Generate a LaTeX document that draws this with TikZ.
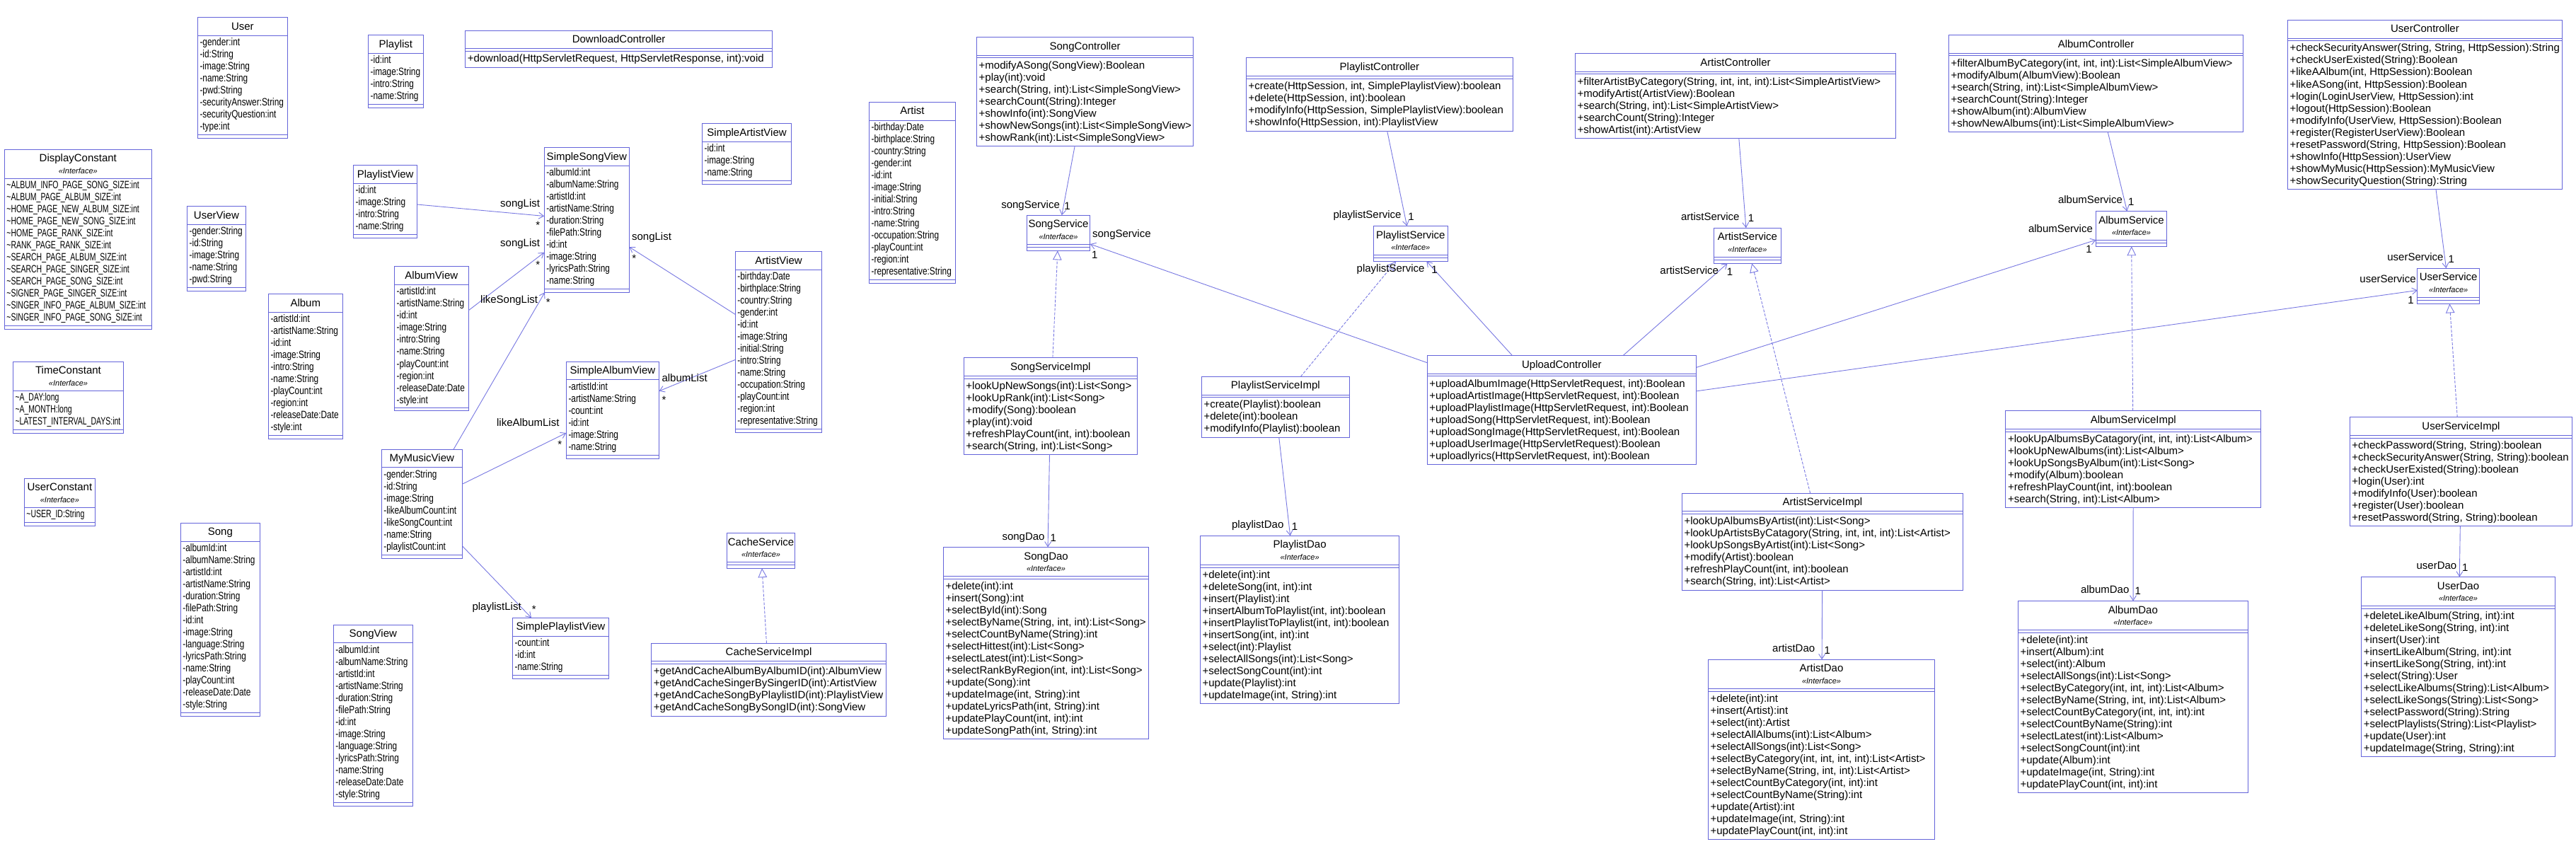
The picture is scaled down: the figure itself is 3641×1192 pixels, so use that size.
\documentclass[tikz,border=0pt]{standalone}
\usepackage{fontspec}
\setmainfont{Liberation Sans}
\newfontfamily\attrfam[FakeStretch=0.79]{Liberation Sans}
\newfontfamily\constfam[FakeStretch=0.70]{Liberation Sans}
\usetikzlibrary{arrows.meta}
\definecolor{umlc}{RGB}{100,100,218}
\definecolor{linkc}{RGB}{120,120,226}
\newcommand\tild{\textasciitilde}
\tikzset{
  clsbox/.style={draw=umlc, line width=1pt, rectangle, inner sep=0pt, outer sep=0pt, anchor=north west, fill=white},
  clsline/.style={draw=umlc, line width=1pt},
  clstitle/.style={font=\fontsize{15}{17}\selectfont, anchor=base, inner sep=0pt},
  stereo/.style={font=\itshape\fontsize{11}{13}\selectfont, anchor=base, inner sep=0pt},
  attrtext/.style={font=\attrfam\fontsize{15}{17.03}\selectfont, align=left, anchor=north west, inner sep=0pt},
  consttext/.style={font=\constfam\fontsize{15}{17.03}\selectfont, align=left, anchor=north west, inner sep=0pt},
  optext/.style={font=\fontsize{15}{17.03}\selectfont, align=left, anchor=north west, inner sep=0pt},
  lbl/.style={font=\fontsize{15}{17}\selectfont, inner sep=0pt},
  lblw/.style={lbl, anchor=mid west},
  mult/.style={lbl, anchor=center},
  star/.style={lbl, anchor=center, yshift=-3pt},
  assoc/.style={draw=linkc, line width=0.9pt, -{Straight Barb[length=7pt, width=9pt]}},
  realize/.style={draw=linkc, line width=0.9pt, dash pattern=on 4pt off 2pt, -{Triangle[open, length=13pt, width=12.5pt, fill=white]}}
}
% name x1 y1 x2 y2 title
\newcommand\classbox[6]{%
  \node[clsbox, minimum width={#4-#2}, minimum height={#5-#3}] (#1) at (#2,#3) {};
  \node[clstitle] (#1-t) at ([yshift=-17.6pt]#1.north) {#6};
  \draw[clsline] ([yshift=-25.7pt]#1.north west) -- ([yshift=-25.7pt]#1.north east);
}
\newcommand\ifacebox[6]{%
  \node[clsbox, minimum width={#4-#2}, minimum height={#5-#3}] (#1) at (#2,#3) {};
  \node[clstitle] (#1-t) at ([yshift=-17.6pt]#1.north) {#6};
  \node[stereo] (#1-s) at ([yshift=-34.3pt]#1.north) {«Interface»};
  \draw[clsline] ([yshift=-41pt]#1.north west) -- ([yshift=-41pt]#1.north east);
}
% name, header height, style, lines
\newcommand\attrbody[4]{%
  \node[#3] (#1-m) at ([xshift=3pt, yshift={-(#2+2.1)*1pt}]#1.north west) {\strut #4};
  \draw[clsline] ([yshift=4.7pt]#1.south west) -- ([yshift=4.7pt]#1.south east);
}
% name, header height, lines
\newcommand\opbody[3]{%
  \draw[clsline] ([yshift={-(#2+3.8)*1pt}]#1.north west) -- ([yshift={-(#2+3.8)*1pt}]#1.north east);
  \node[optext] (#1-m) at ([xshift=3pt, yshift={-(#2+6.8)*1pt}]#1.north west) {\strut #3};
}
\newcommand\emptybody[2]{%
  \draw[clsline] ([yshift={-(#2+4.2)*1pt}]#1.north west) -- ([yshift={-(#2+4.2)*1pt}]#1.north east);
}
\begin{document}
\begin{tikzpicture}[x=1pt,y=-1pt]
\fill[white] (0,0) rectangle (3641,1192);
\useasboundingbox (0,0) rectangle (3641,1192);

% ---------------- entity / view classes ----------------
\classbox{User}{279.3}{24.5}{406.5}{195.2}{User}
\attrbody{User}{25.7}{attrtext}{-gender:int\\-id:String\\-image:String\\-name:String\\-pwd:String\\-securityAnswer:String\\-securityQuestion:int\\-type:int}

\classbox{Playlist}{520.5}{49.4}{598.3}{152.3}{Playlist}
\attrbody{Playlist}{25.7}{attrtext}{-id:int\\-image:String\\-intro:String\\-name:String}

\ifacebox{DisplayConstant}{6.2}{211.2}{214.4}{465.3}{DisplayConstant}
\attrbody{DisplayConstant}{41}{consttext}{\tild ALBUM\_INFO\_PAGE\_SONG\_SIZE:int\\\tild ALBUM\_PAGE\_ALBUM\_SIZE:int\\\tild HOME\_PAGE\_NEW\_ALBUM\_SIZE:int\\\tild HOME\_PAGE\_NEW\_SONG\_SIZE:int\\\tild HOME\_PAGE\_RANK\_SIZE:int\\\tild RANK\_PAGE\_RANK\_SIZE:int\\\tild SEARCH\_PAGE\_ALBUM\_SIZE:int\\\tild SEARCH\_PAGE\_SINGER\_SIZE:int\\\tild SEARCH\_PAGE\_SONG\_SIZE:int\\\tild SIGNER\_PAGE\_SINGER\_SIZE:int\\\tild SINGER\_INFO\_PAGE\_ALBUM\_SIZE:int\\\tild SINGER\_INFO\_PAGE\_SONG\_SIZE:int}

\ifacebox{TimeConstant}{18.3}{511.2}{174.7}{612.3}{TimeConstant}
\attrbody{TimeConstant}{41}{consttext}{\tild A\_DAY:long\\\tild A\_MONTH:long\\\tild LATEST\_INTERVAL\_DAYS:int}

\ifacebox{UserConstant}{34.2}{676.2}{134.6}{743.5}{UserConstant}
\attrbody{UserConstant}{41}{consttext}{\tild USER\_ID:String}

\classbox{PlaylistView}{499.5}{233.4}{589.8}{336.4}{PlaylistView}
\attrbody{PlaylistView}{25.7}{attrtext}{-id:int\\-image:String\\-intro:String\\-name:String}

\classbox{UserView}{264.5}{291.6}{347.4}{411.4}{UserView}
\attrbody{UserView}{25.7}{attrtext}{-gender:String\\-id:String\\-image:String\\-name:String\\-pwd:String}

\classbox{Album}{379.3}{415.6}{484.3}{620.3}{Album}
\attrbody{Album}{25.7}{attrtext}{-artistId:int\\-artistName:String\\-id:int\\-image:String\\-intro:String\\-name:String\\-playCount:int\\-region:int\\-releaseDate:Date\\-style:int}

\classbox{AlbumView}{557.5}{376.9}{662.2}{580.9}{AlbumView}
\attrbody{AlbumView}{25.7}{attrtext}{-artistId:int\\-artistName:String\\-id:int\\-image:String\\-intro:String\\-name:String\\-playCount:int\\-region:int\\-releaseDate:Date\\-style:int}

\classbox{Song}{255.2}{739.3}{367.6}{1012.2}{Song}
\attrbody{Song}{25.7}{attrtext}{-albumId:int\\-albumName:String\\-artistId:int\\-artistName:String\\-duration:String\\-filePath:String\\-id:int\\-image:String\\-language:String\\-lyricsPath:String\\-name:String\\-playCount:int\\-releaseDate:Date\\-style:String}

\classbox{SongView}{471.1}{883.2}{583.5}{1139.2}{SongView}
\attrbody{SongView}{25.7}{attrtext}{-albumId:int\\-albumName:String\\-artistId:int\\-artistName:String\\-duration:String\\-filePath:String\\-id:int\\-image:String\\-language:String\\-lyricsPath:String\\-name:String\\-releaseDate:Date\\-style:String}

\classbox{MyMusicView}{539.2}{635.2}{653.3}{789.5}{MyMusicView}
\attrbody{MyMusicView}{25.7}{attrtext}{-gender:String\\-id:String\\-image:String\\-likeAlbumCount:int\\-likeSongCount:int\\-name:String\\-playlistCount:int}

\classbox{SimpleSongView}{769.2}{208.6}{889.4}{413.3}{SimpleSongView}
\attrbody{SimpleSongView}{25.7}{attrtext}{-albumId:int\\-albumName:String\\-artistId:int\\-artistName:String\\-duration:String\\-filePath:String\\-id:int\\-image:String\\-lyricsPath:String\\-name:String}

\classbox{SimpleArtistView}{992.5}{174.5}{1118.6}{260.2}{SimpleArtistView}
\attrbody{SimpleArtistView}{25.7}{attrtext}{-id:int\\-image:String\\-name:String}

\classbox{ArtistView}{1039.2}{355.5}{1161.8}{611.1}{ArtistView}
\attrbody{ArtistView}{25.7}{attrtext}{-birthday:Date\\-birthplace:String\\-country:String\\-gender:int\\-id:int\\-image:String\\-initial:String\\-intro:String\\-name:String\\-occupation:String\\-playCount:int\\-region:int\\-representative:String}

\classbox{SimpleAlbumView}{800.3}{511.2}{931.5}{648.3}{SimpleAlbumView}
\attrbody{SimpleAlbumView}{25.7}{attrtext}{-artistId:int\\-artistName:String\\-count:int\\-id:int\\-image:String\\-name:String}

\classbox{SimplePlaylistView}{724.5}{873.3}{860.3}{959.4}{SimplePlaylistView}
\attrbody{SimplePlaylistView}{25.7}{attrtext}{-count:int\\-id:int\\-name:String}

\classbox{Artist}{1228.4}{144.3}{1350.6}{400.3}{Artist}
\attrbody{Artist}{25.7}{attrtext}{-birthday:Date\\-birthplace:String\\-country:String\\-gender:int\\-id:int\\-image:String\\-initial:String\\-intro:String\\-name:String\\-occupation:String\\-playCount:int\\-region:int\\-representative:String}

% ---------------- controllers / services / daos ----------------
\classbox{DownloadController}{657.6}{43.2}{1091.7}{95.3}{DownloadController}
\opbody{DownloadController}{25.7}{+download(HttpServletRequest, HttpServletResponse, int):void}

\ifacebox{CacheService}{1027.5}{753.5}{1123.6}{803.2}{CacheService}
\emptybody{CacheService}{41}

\classbox{CacheServiceImpl}{920.6}{909.2}{1252.5}{1012.2}{CacheServiceImpl}
\opbody{CacheServiceImpl}{25.7}{+getAndCacheAlbumByAlbumID(int):AlbumView\\+getAndCacheSingerBySingerID(int):ArtistView\\+getAndCacheSongByPlaylistID(int):PlaylistView\\+getAndCacheSongBySongID(int):SongView}

\classbox{SongController}{1380.5}{52.4}{1686.7}{206.3}{SongController}
\opbody{SongController}{25.7}{+modifyASong(SongView):Boolean\\+play(int):void\\+search(String, int):List<SimpleSongView>\\+searchCount(String):Integer\\+showInfo(int):SongView\\+showNewSongs(int):List<SimpleSongView>\\+showRank(int):List<SimpleSongView>}

\ifacebox{SongService}{1451.3}{304.2}{1540.8}{354.4}{SongService}
\emptybody{SongService}{41}

\classbox{SongServiceImpl}{1362.2}{505.5}{1607.3}{642.1}{SongServiceImpl}
\opbody{SongServiceImpl}{25.7}{+lookUpNewSongs(int):List<Song>\\+lookUpRank(int):List<Song>\\+modify(Song):boolean\\+play(int):void\\+refreshPlayCount(int, int):boolean\\+search(String, int):List<Song>}

\ifacebox{SongDao}{1333.4}{773.4}{1623.7}{1044.3}{SongDao}
\opbody{SongDao}{41}{+delete(int):int\\+insert(Song):int\\+selectById(int):Song\\+selectByName(String, int, int):List<Song>\\+selectCountByName(String):int\\+selectHittest(int):List<Song>\\+selectLatest(int):List<Song>\\+selectRankByRegion(int, int):List<Song>\\+update(Song):int\\+updateImage(int, String):int\\+updateLyricsPath(int, String):int\\+updatePlayCount(int, int):int\\+updateSongPath(int, String):int}

\classbox{PlaylistController}{1761.4}{81.9}{2138.5}{185.2}{PlaylistController}
\opbody{PlaylistController}{25.7}{+create(HttpSession, int, SimplePlaylistView):boolean\\+delete(HttpSession, int):boolean\\+modifyInfo(HttpSession, SimplePlaylistView):boolean\\+showInfo(HttpSession, int):PlaylistView}

\ifacebox{PlaylistService}{1941.2}{319.5}{2046.3}{369.3}{PlaylistService}
\emptybody{PlaylistService}{41}

\classbox{PlaylistServiceImpl}{1698.3}{532.3}{1907.4}{618.4}{PlaylistServiceImpl}
\opbody{PlaylistServiceImpl}{25.7}{+create(Playlist):boolean\\+delete(int):boolean\\+modifyInfo(Playlist):boolean}

\ifacebox{PlaylistDao}{1696.4}{757.3}{1977.8}{994.2}{PlaylistDao}
\opbody{PlaylistDao}{41}{+delete(int):int\\+deleteSong(int, int):int\\+insert(Playlist):int\\+insertAlbumToPlaylist(int, int):boolean\\+insertPlaylistToPlaylist(int, int):boolean\\+insertSong(int, int):int\\+select(int):Playlist\\+selectAllSongs(int):List<Song>\\+selectSongCount(int):int\\+update(Playlist):int\\+updateImage(int, String):int}

\classbox{UploadController}{2017.1}{502.4}{2397.6}{656.3}{UploadController}
\opbody{UploadController}{25.7}{+uploadAlbumImage(HttpServletRequest, int):Boolean\\+uploadArtistImage(HttpServletRequest, int):Boolean\\+uploadPlaylistImage(HttpServletRequest, int):Boolean\\+uploadSong(HttpServletRequest, int):Boolean\\+uploadSongImage(HttpServletRequest, int):Boolean\\+uploadUserImage(HttpServletRequest):Boolean\\+uploadlyrics(HttpServletRequest, int):Boolean}

\classbox{ArtistController}{2226.4}{75.4}{2679.7}{195.2}{ArtistController}
\opbody{ArtistController}{25.7}{+filterArtistByCategory(String, int, int, int):List<SimpleArtistView>\\+modifyArtist(ArtistView):Boolean\\+search(String, int):List<SimpleArtistView>\\+searchCount(String):Integer\\+showArtist(int):ArtistView}

\ifacebox{ArtistService}{2422.6}{322.2}{2517.1}{372.3}{ArtistService}
\emptybody{ArtistService}{41}

\classbox{ArtistServiceImpl}{2377.3}{697.2}{2774.6}{834.2}{ArtistServiceImpl}
\opbody{ArtistServiceImpl}{25.7}{+lookUpAlbumsByArtist(int):List<Song>\\+lookUpArtistsByCatagory(String, int, int, int):List<Artist>\\+lookUpSongsByArtist(int):List<Song>\\+modify(Artist):boolean\\+refreshPlayCount(int, int):boolean\\+search(String, int):List<Artist>}

\ifacebox{ArtistDao}{2414.4}{932.2}{2734.6}{1186.3}{ArtistDao}
\opbody{ArtistDao}{41}{+delete(int):int\\+insert(Artist):int\\+select(int):Artist\\+selectAllAlbums(int):List<Album>\\+selectAllSongs(int):List<Song>\\+selectByCategory(int, int, int, int):List<Artist>\\+selectByName(String, int, int):List<Artist>\\+selectCountByCategory(int, int):int\\+selectCountByName(String):int\\+update(Artist):int\\+updateImage(int, String):int\\+updatePlayCount(int, int):int}

\classbox{AlbumController}{2754.4}{49.4}{3170.7}{186.4}{AlbumController}
\opbody{AlbumController}{25.7}{+filterAlbumByCategory(int, int, int):List<SimpleAlbumView>\\+modifyAlbum(AlbumView):Boolean\\+search(String, int):List<SimpleAlbumView>\\+searchCount(String):Integer\\+showAlbum(int):AlbumView\\+showNewAlbums(int):List<SimpleAlbumView>}

\ifacebox{AlbumService}{2962.5}{298.5}{3062.5}{348.2}{AlbumService}
\emptybody{AlbumService}{41}

\classbox{AlbumServiceImpl}{2834.9}{580.5}{3195.6}{717.1}{AlbumServiceImpl}
\opbody{AlbumServiceImpl}{25.7}{+lookUpAlbumsByCatagory(int, int, int):List<Album>\\+lookUpNewAlbums(int):List<Album>\\+lookUpSongsByAlbum(int):List<Song>\\+modify(Album):boolean\\+refreshPlayCount(int, int):boolean\\+search(String, int):List<Album>}

\ifacebox{AlbumDao}{2852.4}{849.5}{3177.3}{1120.5}{AlbumDao}
\opbody{AlbumDao}{41}{+delete(int):int\\+insert(Album):int\\+select(int):Album\\+selectAllSongs(int):List<Song>\\+selectByCategory(int, int, int):List<Album>\\+selectByName(String, int, int):List<Album>\\+selectCountByCategory(int, int, int):int\\+selectCountByName(String):int\\+selectLatest(int):List<Album>\\+selectSongCount(int):int\\+update(Album):int\\+updateImage(int, String):int\\+updatePlayCount(int, int):int}

\classbox{UserController}{3233.3}{28.3}{3621.6}{267.1}{UserController}
\opbody{UserController}{25.7}{+checkSecurityAnswer(String, String, HttpSession):String\\+checkUserExisted(String):Boolean\\+likeAAlbum(int, HttpSession):Boolean\\+likeASong(int, HttpSession):Boolean\\+login(LoginUserView, HttpSession):int\\+logout(HttpSession):Boolean\\+modifyInfo(UserView, HttpSession):Boolean\\+register(RegisterUserView):Boolean\\+resetPassword(String, HttpSession):Boolean\\+showInfo(HttpSession):UserView\\+showMyMusic(HttpSession):MyMusicView\\+showSecurityQuestion(String):String}

\ifacebox{UserService}{3416.9}{379.2}{3504.5}{429.4}{UserService}
\emptybody{UserService}{41}

\classbox{UserServiceImpl}{3321.2}{589.7}{3635.6}{743.5}{UserServiceImpl}
\opbody{UserServiceImpl}{25.7}{+checkPassword(String, String):boolean\\+checkSecurityAnswer(String, String):boolean\\+checkUserExisted(String):boolean\\+login(User):int\\+modifyInfo(User):boolean\\+register(User):boolean\\+resetPassword(String, String):boolean}

\ifacebox{UserDao}{3337.6}{815.5}{3611.4}{1069.6}{UserDao}
\opbody{UserDao}{41}{+deleteLikeAlbum(String, int):int\\+deleteLikeSong(String, int):int\\+insert(User):int\\+insertLikeAlbum(String, int):int\\+insertLikeSong(String, int):int\\+select(String):User\\+selectLikeAlbums(String):List<Album>\\+selectLikeSongs(String):List<Song>\\+selectPassword(String):String\\+selectPlaylists(String):List<Playlist>\\+update(User):int\\+updateImage(String, String):int}

% ---------------- connectors ----------------
\draw[assoc] (PlaylistView) -- (SimpleSongView);
\draw[assoc] (AlbumView) -- (SimpleSongView);
\draw[assoc] (MyMusicView) -- (SimpleSongView);
\draw[assoc] (ArtistView) -- (SimpleSongView);
\draw[assoc] (ArtistView) -- (SimpleAlbumView);
\draw[assoc] (MyMusicView) -- (SimpleAlbumView);
\draw[assoc] (MyMusicView) -- (SimplePlaylistView);
\draw[realize] (CacheServiceImpl) -- (CacheService);

\draw[assoc] (SongController) -- (SongService);
\draw[realize] (SongServiceImpl) -- (SongService);
\draw[assoc] (UploadController) -- (SongService);
\draw[assoc] (SongServiceImpl) -- (SongDao);

\draw[assoc] (PlaylistController) -- (PlaylistService);
\draw[realize] (PlaylistServiceImpl) -- (PlaylistService);
\draw[assoc] (UploadController) -- (PlaylistService);
\draw[assoc] (PlaylistServiceImpl) -- (PlaylistDao);

\draw[assoc] (ArtistController) -- (ArtistService);
\draw[realize] (ArtistServiceImpl) -- (ArtistService);
\draw[assoc] (UploadController) -- (ArtistService);
\draw[assoc] (ArtistServiceImpl) -- (ArtistDao);

\draw[assoc] (AlbumController) -- (AlbumService);
\draw[realize] (AlbumServiceImpl) -- (AlbumService);
\draw[assoc] (UploadController) -- (AlbumService);
\draw[assoc] (AlbumServiceImpl) -- (AlbumDao);

\draw[assoc] (UserController) -- (UserService);
\draw[realize] (UserServiceImpl) -- (UserService);
\draw[assoc] (UploadController) -- (UserService);
\draw[assoc] (UserServiceImpl) -- (UserDao);

% ---------------- role names and multiplicities ----------------
\node[lblw] (lA) at (707.0,290.1) {songList};      \node[star] (mA) at (760.3,315.7) {*};
\node[lblw] (lB) at (707.0,345.5) {songList};      \node[star] (mB) at (760.3,371.2) {*};
\node[lblw] (lC) at (679.0,425.5) {likeSongList};  \node[star] (mC) at (774.7,424.8) {*};
\node[lblw] (lD) at (892.9,337.1) {songList};      \node[star] (mD) at (896.4,362.0) {*};
\node[lblw] (lE) at (935.3,536.5) {albumList};     \node[star] (mE) at (938.5,562.5) {*};
\node[lblw] (lF) at (701.9,599.7) {likeAlbumList}; \node[star] (mF) at (791.4,625.7) {*};
\node[lblw] (lG) at (667.3,859.9) {playlistList};  \node[star] (mG) at (754.8,858.0) {*};

\node[lblw] (lI) at (1415.1,291.6) {songService};     \node[mult] (mI) at (1508.5,291.6) {1};
\node[lblw] (lK) at (1543.9,333.3) {songService};     \node[mult] (mK) at (1547.4,360.1) {1};
\node[lblw] (lL) at (1416.3,760.4) {songDao};         \node[mult] (mL) at (1488.7,760.4) {1};
\node[lblw] (lM) at (1884.4,306.1) {playlistService}; \node[mult] (mM) at (1994.5,306.1) {1};
\node[lblw] (lO) at (1917.5,381.5) {playlistService}; \node[mult] (mO) at (2027.6,381.5) {1};
\node[lblw] (lP) at (1740.8,744.3) {playlistDao};     \node[mult] (mP) at (1830.0,744.3) {1};
\node[lblw] (lQ) at (2346.2,384.6) {artistService};   \node[mult] (mQ) at (2445.1,384.6) {1};
\node[lblw] (lR) at (2375.8,308.8) {artistService};   \node[mult] (mR) at (2475.1,308.8) {1};
\node[lblw] (lT) at (2505.0,919.2) {artistDao};       \node[mult] (mT) at (2582.8,919.2) {1};
\node[lblw] (lU) at (2866.8,326.0) {albumService};    \node[mult] (mU) at (2952.4,352.8) {1};
\node[lblw] (lV) at (2908.8,285.1) {albumService};    \node[mult] (mV) at (3012.3,285.1) {1};
\node[lblw] (lX) at (2940.8,835.8) {albumDao};        \node[mult] (mX) at (3021.7,835.8) {1};
\node[lblw] (lY) at (3335.2,396.8) {userService};     \node[mult] (mY) at (3407.6,424.0) {1};
\node[lblw] (lZ) at (3374.1,366.2) {userService};     \node[mult] (mZ) at (3464.8,366.2) {1};
\node[lblw] (lAB) at (3415.4,802.1) {userDao};        \node[mult] (mAB) at (3484.2,802.1) {1};
\end{tikzpicture}
\end{document}
